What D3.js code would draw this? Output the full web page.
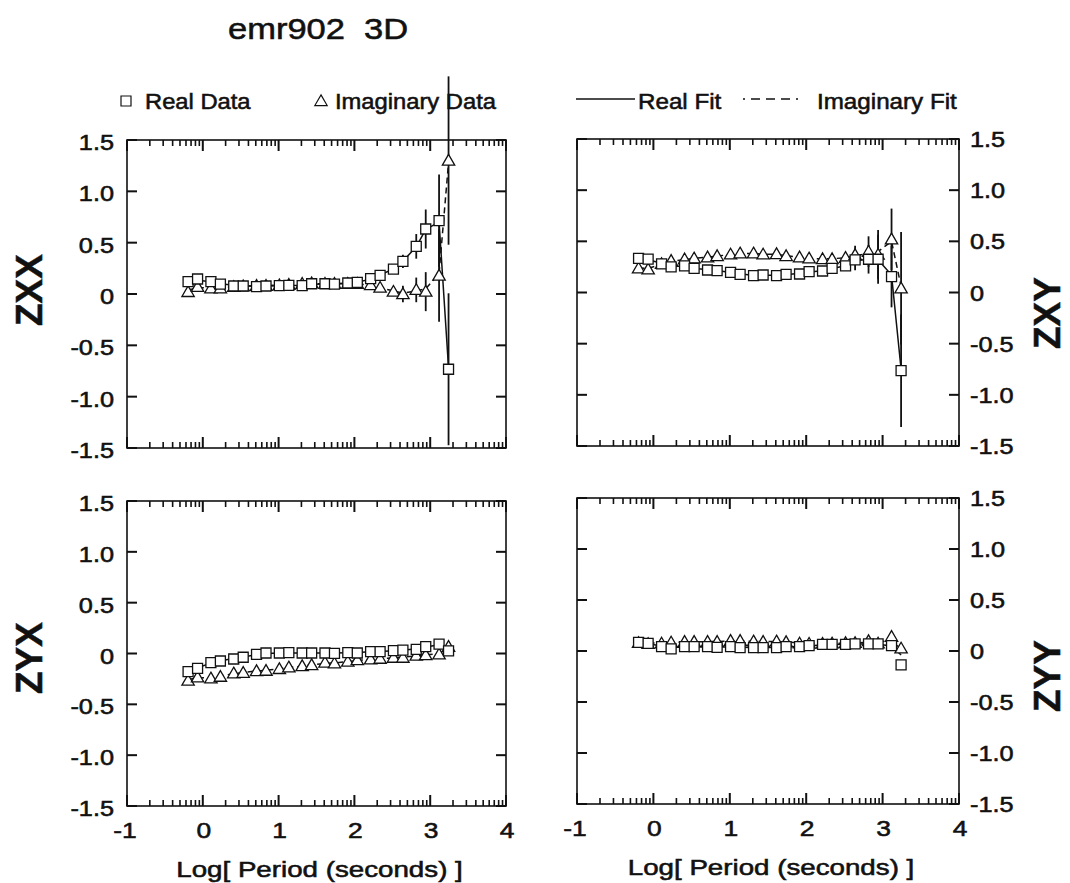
<!DOCTYPE html>
<html><head><meta charset="utf-8">
<script src="https://cdn.jsdelivr.net/npm/d3@7"></script>
<style>
html,body{margin:0;padding:0;background:#fff;}
svg text{font-family:"Liberation Sans",Arial,Helvetica,sans-serif;fill:#111;white-space:pre;stroke:#111;stroke-width:0.55px;}
</style></head>
<body><svg id="c" width="1070" height="883"></svg>
<script>
// ---- data ----
const logPeriod = [-0.194,-0.069,0.107,0.232,0.408,0.533,0.709,0.834,1.010,1.135,1.311,1.436,1.612,1.737,1.913,2.038,2.214,2.339,2.515,2.640,2.816,2.941,3.117,3.242];

const zxxRe    = [0.12,0.146,0.12,0.097,0.078,0.078,0.071,0.078,0.081,0.084,0.081,0.10,0.10,0.097,0.107,0.114,0.149,0.182,0.243,0.318,0.464,0.633,0.714,-0.733];
const zxxIm    = [0.02,0.07,0.055,0.055,0.07,0.075,0.08,0.08,0.085,0.09,0.10,0.105,0.10,0.10,0.10,0.10,0.088,0.062,0.023,0.0,0.04,0.023,0.18,1.30];
const zxxReErr = [0.01,0.01,0.01,0.01,0.01,0.01,0.01,0.01,0.01,0.01,0.01,0.01,0.01,0.01,0.01,0.015,0.02,0.02,0.04,0.065,0.12,0.19,0.45,0.74];
const zxxImErr = [0.01,0.01,0.01,0.01,0.01,0.01,0.01,0.01,0.01,0.01,0.01,0.01,0.01,0.01,0.01,0.015,0.02,0.03,0.04,0.08,0.12,0.19,0.45,0.82];
const zxxReFit = [0.13,0.135,0.12,0.1,0.085,0.08,0.078,0.078,0.08,0.083,0.086,0.095,0.098,0.1,0.106,0.115,0.145,0.185,0.245,0.32,0.46,0.63,0.70,-0.72];
const zxxImFit = [0.04,0.06,0.06,0.06,0.07,0.075,0.08,0.082,0.086,0.09,0.098,0.1,0.1,0.1,0.1,0.098,0.085,0.06,0.03,0.01,0.03,0.05,0.20,1.28];

const zxyRe    = [0.334,0.327,0.28,0.25,0.26,0.236,0.22,0.213,0.197,0.178,0.165,0.171,0.165,0.178,0.181,0.204,0.21,0.236,0.26,0.318,0.325,0.325,0.155,-0.764];
const zxyIm    = [0.236,0.227,0.28,0.31,0.325,0.334,0.344,0.357,0.373,0.383,0.383,0.373,0.376,0.357,0.344,0.334,0.327,0.327,0.34,0.367,0.399,0.37,0.52,0.041];
const zxyReErr = [0.01,0.01,0.01,0.01,0.01,0.01,0.01,0.01,0.01,0.01,0.01,0.01,0.01,0.01,0.01,0.01,0.015,0.02,0.04,0.10,0.14,0.24,0.30,0.55];
const zxyImErr = [0.01,0.01,0.01,0.01,0.01,0.01,0.01,0.01,0.01,0.01,0.01,0.01,0.01,0.01,0.01,0.01,0.015,0.02,0.04,0.09,0.15,0.24,0.30,0.55];
const zxyReFit = [0.33,0.32,0.285,0.26,0.255,0.238,0.222,0.212,0.197,0.18,0.168,0.168,0.168,0.175,0.185,0.2,0.212,0.235,0.262,0.31,0.325,0.32,0.17,-0.75];
const zxyImFit = [0.24,0.235,0.275,0.305,0.322,0.334,0.345,0.357,0.37,0.38,0.382,0.376,0.372,0.36,0.345,0.335,0.328,0.33,0.34,0.36,0.38,0.40,0.50,0.06];

const zyxRe    = [-0.179,-0.146,-0.09,-0.074,-0.054,-0.037,-0.008,0.005,0.005,0.008,0.005,0.005,0.005,0.002,0.008,0.005,0.018,0.018,0.028,0.034,0.041,0.067,0.093,0.025];
const zyxIm    = [-0.267,-0.234,-0.244,-0.228,-0.195,-0.189,-0.172,-0.169,-0.152,-0.136,-0.123,-0.113,-0.09,-0.097,-0.08,-0.064,-0.057,-0.051,-0.041,-0.041,-0.021,-0.015,-0.008,0.067];
const zyxReErr = [0.01,0.01,0.01,0.01,0.01,0.01,0.01,0.01,0.01,0.01,0.01,0.01,0.01,0.01,0.01,0.01,0.01,0.01,0.01,0.01,0.015,0.02,0.03,0.03];
const zyxImErr = [0.01,0.01,0.01,0.01,0.01,0.01,0.01,0.01,0.01,0.01,0.01,0.01,0.01,0.01,0.01,0.01,0.01,0.01,0.01,0.01,0.015,0.02,0.03,0.03];
const zyxReFit = [-0.175,-0.14,-0.095,-0.072,-0.05,-0.035,-0.012,0.0,0.004,0.006,0.006,0.006,0.006,0.006,0.008,0.01,0.016,0.02,0.027,0.034,0.045,0.065,0.085,0.04];
const zyxImFit = [-0.255,-0.24,-0.235,-0.222,-0.2,-0.187,-0.172,-0.165,-0.15,-0.138,-0.124,-0.112,-0.098,-0.093,-0.08,-0.068,-0.058,-0.05,-0.043,-0.036,-0.024,-0.014,0.0,0.05];

const zyyRe    = [0.085,0.075,0.042,0.02,0.042,0.042,0.042,0.036,0.042,0.033,0.033,0.033,0.033,0.042,0.042,0.052,0.065,0.065,0.065,0.069,0.069,0.069,0.052,-0.137];
const zyyIm    = [0.08,0.07,0.075,0.085,0.091,0.091,0.091,0.091,0.101,0.101,0.095,0.091,0.095,0.088,0.075,0.072,0.072,0.075,0.078,0.08,0.098,0.075,0.14,0.026];
const zyyReErr = [0.01,0.01,0.01,0.01,0.01,0.01,0.01,0.01,0.01,0.01,0.01,0.01,0.01,0.01,0.01,0.01,0.01,0.01,0.01,0.01,0.01,0.01,0.015,0.02];
const zyyImErr = [0.01,0.01,0.01,0.01,0.01,0.01,0.01,0.01,0.01,0.01,0.01,0.01,0.01,0.01,0.01,0.01,0.01,0.01,0.01,0.01,0.01,0.01,0.015,0.02];
const zyyReFit = [0.08,0.07,0.05,0.035,0.04,0.04,0.04,0.038,0.038,0.036,0.034,0.034,0.035,0.04,0.045,0.052,0.06,0.064,0.066,0.068,0.068,0.066,0.05,-0.04];
const zyyImFit = [0.075,0.075,0.08,0.085,0.088,0.09,0.092,0.094,0.097,0.097,0.095,0.093,0.092,0.088,0.08,0.076,0.074,0.075,0.077,0.08,0.085,0.09,0.1,0.02];

const xTickLabels = ["-1","0","1","2","3","4"];
const yTickLabels = ["-1.5","-1.0","-0.5","0","0.5","1.0","1.5"];
const yTickValues = [-1.5,-1.0,-0.5,0,0.5,1.0,1.5];
const xTickValues = [-1,0,1,2,3,4];
const titleText = "emr902  3D";
const xAxisTitle = "Log[ Period (seconds) ]";
const legendLabels = ["Real Data","Imaginary Data","Real Fit","Imaginary Fit"];

// ---- layout ----
const svg = d3.select("#c");
const panels = [
  {name:"ZXX", re:zxxRe, im:zxxIm, reErr:zxxReErr, imErr:zxxImErr, reFit:zxxReFit, imFit:zxxImFit, x0:127,x1:506,y0:140,y1:448, side:"left", xlab:false, labY:290},
  {name:"ZXY", re:zxyRe, im:zxyIm, reErr:zxyReErr, imErr:zxyImErr, reFit:zxyReFit, imFit:zxyImFit, x0:577,x1:959,y0:139,y1:446, side:"right", xlab:false, labY:313},
  {name:"ZYX", re:zyxRe, im:zyxIm, reErr:zyxReErr, imErr:zyxImErr, reFit:zyxReFit, imFit:zyxImFit, x0:127,x1:506,y0:501,y1:806, side:"left", xlab:true, labY:658},
  {name:"ZYY", re:zyyRe, im:zyyIm, reErr:zyyReErr, imErr:zyyImErr, reFit:zyyReFit, imFit:zyyImFit, x0:577,x1:959,y0:498,y1:804, side:"right", xlab:true, labY:676}
];

function txt(g, x, y, s, size, sx, anchor, rot, weight){
  return g.append("text")
    .attr("transform", `translate(${x},${y}) scale(${sx},1)` + (rot ? ` rotate(${rot})` : ""))
    .attr("font-size", size)
    .attr("font-weight", weight || "normal")
    .attr("text-anchor", anchor || "start")
    .text(s);
}

// minor log ticks
const minorTicks = [];
for (let d = -1; d < 4; d++) for (let k = 2; k <= 9; k++) minorTicks.push(d + Math.log10(k));

const sqSym = d3.symbol().type(d3.symbolSquare).size(100);
const triSym = d3.symbol().type(d3.symbolTriangle).size(66);

panels.forEach(p => {
  const x = d3.scaleLinear().domain([-1,4]).range([p.x0,p.x1]);
  const y = d3.scaleLinear().domain([-1.5,1.5]).range([p.y1,p.y0]);
  const g = svg.append("g");

  g.append("rect").attr("x",p.x0).attr("y",p.y0).attr("width",p.x1-p.x0).attr("height",p.y1-p.y0)
    .attr("fill","none").attr("stroke","#111").attr("stroke-width",1.6);

  // tick marks drawn as thin rects positioned by the scales
  const tg = g.append("g").attr("fill","#111");
  xTickValues.forEach(v => {
    tg.append("rect").attr("x",x(v)-1).attr("y",p.y1-11).attr("width",2).attr("height",11);
    tg.append("rect").attr("x",x(v)-1).attr("y",p.y0).attr("width",2).attr("height",11);
  });
  minorTicks.forEach(v => {
    tg.append("rect").attr("x",x(v)-0.8).attr("y",p.y1-6).attr("width",1.6).attr("height",6);
    tg.append("rect").attr("x",x(v)-0.8).attr("y",p.y0).attr("width",1.6).attr("height",6);
  });
  yTickValues.forEach(v => {
    tg.append("rect").attr("x",p.x0).attr("y",y(v)-1).attr("width",10).attr("height",2);
    tg.append("rect").attr("x",p.x1-10).attr("y",y(v)-1).attr("width",10).attr("height",2);
  });

  // y tick labels
  yTickValues.forEach((v,i) => {
    if (p.side === "left") txt(g, p.x0-13, y(v)+10, yTickLabels[i], 22, 1.15, "end");
    else txt(g, p.x1+11, y(v)+8, yTickLabels[i], 22, 1.15, "start");
  });
  // x tick labels
  if (p.xlab) {
    xTickValues.forEach((v,i) => txt(g, x(v)+(v<0?-2:1), p.y1+32, xTickLabels[i], 22, 1.2, "middle"));
    txt(g, (p.x0+p.x1)/2+3, p.y1+71, xAxisTitle, 22, 1.26, "middle");
  }
  // component label
  const lx = p.side === "left" ? 42 : 1060;
  txt(g, lx, p.labY, p.name, 37, 1.0, "middle", -90, "bold");

  // fit lines
  const line = d3.line().x((d,i)=>x(logPeriod[i])).y(d=>y(d));
  g.append("path").datum(p.reFit).attr("d",line).attr("fill","none").attr("stroke","#111").attr("stroke-width",1.5);
  g.append("path").datum(p.imFit).attr("d",line).attr("fill","none").attr("stroke","#111").attr("stroke-width",1.5).attr("stroke-dasharray","6,4");

  // error bars
  const eb = (vals, errs) => g.append("g").selectAll("line").data(vals).join("line")
    .attr("x1",(d,i)=>x(logPeriod[i])).attr("x2",(d,i)=>x(logPeriod[i]))
    .attr("y1",(d,i)=>y(d-errs[i])).attr("y2",(d,i)=>y(d+errs[i]))
    .attr("stroke","#111").attr("stroke-width",1.8);
  eb(p.re, p.reErr);
  eb(p.im, p.imErr);

  // markers
  g.append("g").selectAll("path").data(p.im).join("path")
    .attr("d",triSym).attr("transform",(d,i)=>`translate(${x(logPeriod[i])},${y(d)+1})`)
    .attr("fill","#fff").attr("stroke","#111").attr("stroke-width",1.3);
  g.append("g").selectAll("path").data(p.re).join("path")
    .attr("d",sqSym).attr("transform",(d,i)=>`translate(${x(logPeriod[i])},${y(d)})`)
    .attr("fill","#fff").attr("stroke","#111").attr("stroke-width",1.3);
});

// title
txt(svg, 228, 39, titleText, 30, 1.15, "start");

// legend
const lg = svg.append("g");
lg.append("path").attr("d",sqSym).attr("transform","translate(126,101)").attr("fill","#fff").attr("stroke","#111").attr("stroke-width",1.2);
txt(lg, 145, 109, legendLabels[0], 22, 1.08, "start");
lg.append("path").attr("d",triSym).attr("transform","translate(321,102)").attr("fill","#fff").attr("stroke","#111").attr("stroke-width",1.2);
txt(lg, 335, 109, legendLabels[1], 22, 1.08, "start");
lg.append("line").attr("x1",576).attr("x2",635).attr("y1",99).attr("y2",99).attr("stroke","#111").attr("stroke-width",1.5);
txt(lg, 638, 109, legendLabels[2], 22, 1.1, "start");
lg.append("line").attr("x1",743).attr("x2",803).attr("y1",99).attr("y2",99).attr("stroke","#111").attr("stroke-width",1.5).attr("stroke-dasharray","2,6,9,6,9,6,9,6");
txt(lg, 817, 109, legendLabels[3], 22, 1.1, "start");
</script></body></html>
